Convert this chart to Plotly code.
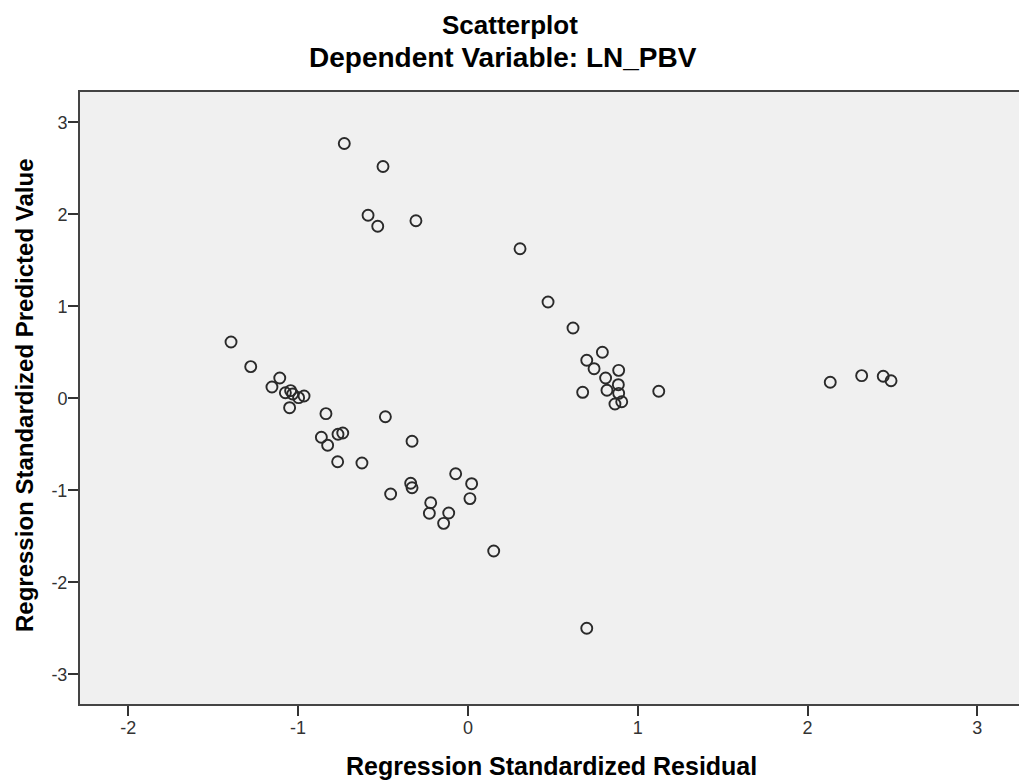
import plotly.graph_objects as go

residual = [-0.728, -0.50, -0.588, -0.531, -0.306, 0.307, 0.472, 0.619, 0.792, 0.70,
            0.743, 0.888, 0.811, 0.886, 0.676, 0.819, 0.888, 0.906, 0.866, 1.124,
            2.134, 2.319, 2.446, 2.492,
            -1.395, -1.279, -1.108, -1.154, -1.075, -1.044, -1.032, -0.997, -0.965, -1.05,
            -0.836, -0.486, -0.863, -0.826, -0.765, -0.737, -0.329, -0.767, -0.624, -0.072,
            0.022, -0.337, -0.329, 0.012, -0.455, -0.219, -0.227, -0.113, -0.143, 0.152,
            0.70]
predicted = [2.77, 2.52, 1.99, 1.87, 1.93, 1.626, 1.047, 0.764, 0.50, 0.413,
             0.322, 0.304, 0.221, 0.148, 0.065, 0.087, 0.054, -0.037, -0.062, 0.076,
             0.174, 0.246, 0.239, 0.191,
             0.612, 0.344, 0.221, 0.123, 0.061, 0.083, 0.047, 0.007, 0.025, -0.102,
             -0.167, -0.20, -0.424, -0.511, -0.391, -0.377, -0.467, -0.689, -0.703, -0.82,
             -0.928, -0.924, -0.972, -1.09, -1.04, -1.135, -1.25, -1.247, -1.359, -1.66,
             -2.50]

x_ticks = [-2, -1, 0, 1, 2, 3]
y_ticks = [-3, -2, -1, 0, 1, 2, 3]

font_family = "Liberation Sans, Arial, sans-serif"

fig = go.Figure()
fig.add_trace(go.Scatter(
    x=residual, y=predicted, mode="markers",
    marker=dict(symbol="circle-open", size=11, color="#2a2a2a", line=dict(width=1.9, color="#2a2a2a")),
    hoverinfo="x+y", showlegend=False,
))

W, H = 1019, 782
PL, PT, PB, PR = 80, 92, 704, 1019
PW, PH = PR - PL, PB - PT

fig.update_layout(
    width=W, height=H,
    margin=dict(l=PL, r=W - PR, t=PT, b=H - PB, pad=0),
    paper_bgcolor="white", plot_bgcolor="#F0F0F0",
    font=dict(family=font_family, color="#222222"),
)

def px(xp):
    return (xp - PL) / PW

def py(yp):
    return (PB - yp) / PH

fig.add_annotation(text="<b>Scatterplot</b>", xref="paper", yref="paper", x=px(510), y=py(25),
                   showarrow=False, font=dict(size=26, family=font_family, color="#000000"),
                   yanchor="middle", xanchor="center")
fig.add_annotation(text="<b>Dependent Variable: LN_PBV</b>", xref="paper", yref="paper", x=px(503), y=py(58),
                   showarrow=False, font=dict(size=28, family=font_family, color="#000000"),
                   yanchor="middle", xanchor="center")
fig.add_annotation(text="<b>Regression Standardized Residual</b>", xref="paper", yref="paper",
                   x=px(551), y=py(766),
                   showarrow=False, font=dict(size=25, family=font_family, color="#000000"),
                   yanchor="middle", xanchor="center")
fig.add_annotation(text="<b>Regression Standardized Predicted Value</b>", xref="paper", yref="paper",
                   x=px(24), y=py(396),
                   showarrow=False, font=dict(size=24, family=font_family, color="#000000"),
                   textangle=-90, xanchor="center", yanchor="middle")

x_lo = (PL - 467.9) / 169.8
x_hi = (PR - 467.9) / 169.8
y_hi = (398.3 - PT) / 92.0
y_lo = (398.3 - PB) / 92.0

tick_style = dict(showgrid=False, zeroline=False, showline=True, linecolor="#444444", linewidth=2,
                  ticks="outside", ticklen=10, tickwidth=2, tickcolor="#333333",
                  tickfont=dict(size=18, color="#333333", family=font_family))
fig.update_xaxes(range=[x_lo, x_hi], tickvals=x_ticks, ticktext=[str(v) for v in x_ticks], mirror=True,
                 ticklabelstandoff=-4, **tick_style)
fig.update_yaxes(range=[y_lo, y_hi], tickvals=y_ticks, ticktext=[str(v) for v in y_ticks], mirror=False,
                 ticklabelstandoff=-3, **tick_style)

fig.write_html("out.html",
               config={"displayModeBar": False},
               post_script="document.body.style.margin='0';document.body.style.overflow='hidden';")
